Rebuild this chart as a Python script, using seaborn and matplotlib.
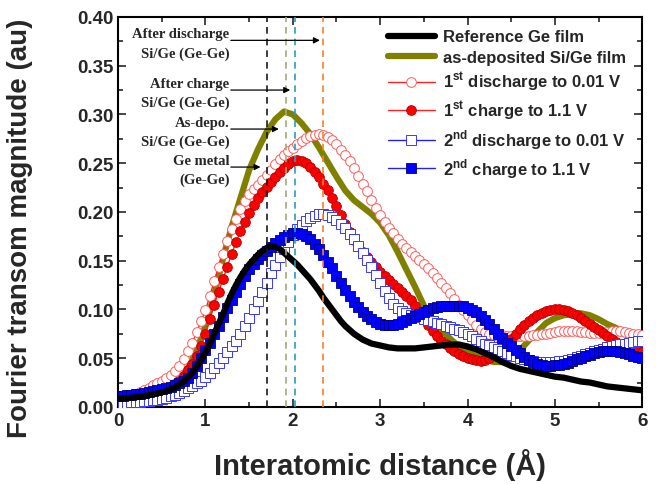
import numpy as np
import matplotlib
matplotlib.use("Agg")
import matplotlib.pyplot as plt
import seaborn as sns

# Interatomic distance grids (Å)
r_fine = [round(0.05 * i, 2) for i in range(121)]
r_coarse = [round(0.1 * i, 1) for i in range(61)]

ref_ge = [0.008, 0.0085, 0.009, 0.0095, 0.010, 0.0105, 0.011, 0.012, 0.013, 0.014,
          0.015, 0.016, 0.018, 0.020, 0.023, 0.026, 0.030, 0.035, 0.041, 0.048,
          0.056, 0.065, 0.075, 0.085, 0.095, 0.106, 0.116, 0.125, 0.133, 0.140,
          0.146, 0.151, 0.156, 0.160, 0.163, 0.165, 0.164, 0.162, 0.158, 0.154,
          0.150, 0.146, 0.141, 0.136, 0.131, 0.125, 0.119, 0.112, 0.106, 0.100,
          0.094, 0.088, 0.083, 0.079, 0.075, 0.072, 0.069, 0.067, 0.065, 0.064,
          0.063, 0.062, 0.061, 0.0605, 0.060, 0.060, 0.060, 0.060, 0.060, 0.0605,
          0.061, 0.0615, 0.062, 0.0625, 0.063, 0.0635, 0.064, 0.064, 0.064, 0.063,
          0.062, 0.0605, 0.059, 0.057, 0.055, 0.053, 0.051, 0.0485, 0.046, 0.044,
          0.042, 0.0405, 0.039, 0.038, 0.037, 0.036, 0.035, 0.034, 0.033, 0.032,
          0.031, 0.0305, 0.030, 0.029, 0.028, 0.027, 0.026, 0.0255, 0.025, 0.024,
          0.023, 0.022, 0.021, 0.0205, 0.020, 0.0195, 0.019, 0.0185, 0.018, 0.0175,
          0.017]

as_dep = [0.005, 0.006, 0.007, 0.009, 0.011, 0.014, 0.019, 0.027, 0.040, 0.058,
          0.083, 0.115, 0.152, 0.185, 0.214, 0.243, 0.264, 0.282, 0.295, 0.303,
          0.300, 0.291, 0.280, 0.266, 0.251, 0.236, 0.222, 0.212, 0.205, 0.198,
          0.189, 0.176, 0.159, 0.141, 0.123, 0.104, 0.089, 0.079, 0.070, 0.062,
          0.056, 0.052, 0.049, 0.046, 0.046, 0.050, 0.058, 0.068, 0.077, 0.086,
          0.091, 0.094, 0.095, 0.096, 0.094, 0.090, 0.085, 0.081, 0.076, 0.070,
          0.063]

dis1 = [0.009, 0.0095, 0.010, 0.011, 0.013, 0.015, 0.017, 0.019, 0.022, 0.024,
        0.027, 0.030, 0.033, 0.037, 0.042, 0.049, 0.057, 0.066, 0.077, 0.088,
        0.099, 0.114, 0.129, 0.144, 0.157, 0.170, 0.182, 0.193, 0.203, 0.211,
        0.218, 0.223, 0.228, 0.233, 0.238, 0.243, 0.249, 0.254, 0.258, 0.262,
        0.266, 0.270, 0.273, 0.276, 0.278, 0.279, 0.280, 0.279, 0.277, 0.274,
        0.270, 0.264, 0.258, 0.252, 0.245, 0.237, 0.229, 0.221, 0.212, 0.204,
        0.197, 0.190, 0.184, 0.178, 0.172, 0.167, 0.163, 0.159, 0.155, 0.151,
        0.147, 0.142, 0.137, 0.132, 0.127, 0.122, 0.117, 0.111, 0.105, 0.099,
        0.094, 0.089, 0.084, 0.080, 0.077, 0.075, 0.074, 0.073, 0.0735, 0.073,
        0.073, 0.073, 0.073, 0.073, 0.073, 0.0735, 0.074, 0.0745, 0.075, 0.076,
        0.077, 0.0775, 0.078, 0.078, 0.078, 0.0775, 0.077, 0.0765, 0.076, 0.076,
        0.076, 0.0765, 0.077, 0.0775, 0.078, 0.078, 0.077, 0.076, 0.075, 0.0745,
        0.074]

chg1 = [0.006, 0.0065, 0.007, 0.0075, 0.008, 0.009, 0.010, 0.011, 0.012, 0.0135,
        0.015, 0.017, 0.020, 0.023, 0.027, 0.032, 0.038, 0.044, 0.052, 0.062,
        0.075, 0.090, 0.105, 0.118, 0.131, 0.144, 0.157, 0.169, 0.180, 0.190,
        0.199, 0.207, 0.214, 0.220, 0.226, 0.231, 0.236, 0.241, 0.245, 0.249,
        0.252, 0.253, 0.252, 0.250, 0.246, 0.241, 0.236, 0.229, 0.222, 0.214,
        0.206, 0.197, 0.188, 0.179, 0.171, 0.165, 0.159, 0.154, 0.149, 0.143,
        0.138, 0.134, 0.130, 0.126, 0.122, 0.118, 0.114, 0.110, 0.104, 0.097,
        0.090, 0.084, 0.078, 0.073, 0.068, 0.064, 0.060, 0.057, 0.054, 0.052,
        0.050, 0.049, 0.048, 0.0475, 0.048, 0.050, 0.053, 0.056, 0.060, 0.065,
        0.070, 0.075, 0.080, 0.084, 0.088, 0.091, 0.094, 0.096, 0.098, 0.099,
        0.100, 0.100, 0.099, 0.098, 0.096, 0.094, 0.091, 0.088, 0.085, 0.082,
        0.079, 0.076, 0.073, 0.070, 0.067, 0.064, 0.062, 0.060, 0.058, 0.057,
        0.056]

dis2 = [0.003, 0.0035, 0.004, 0.0045, 0.005, 0.0055, 0.006, 0.0065, 0.007, 0.0075,
        0.008, 0.0095, 0.011, 0.0125, 0.014, 0.016, 0.019, 0.021, 0.024, 0.027,
        0.031, 0.035, 0.040, 0.045, 0.050, 0.056, 0.062, 0.068, 0.075, 0.083,
        0.091, 0.100, 0.109, 0.118, 0.127, 0.137, 0.146, 0.154, 0.162, 0.169,
        0.176, 0.182, 0.187, 0.191, 0.194, 0.196, 0.198, 0.198, 0.197, 0.195,
        0.192, 0.188, 0.183, 0.177, 0.172, 0.165, 0.158, 0.151, 0.143, 0.135,
        0.127, 0.119, 0.112, 0.106, 0.101, 0.098, 0.096, 0.094, 0.093, 0.092,
        0.090, 0.089, 0.088, 0.086, 0.085, 0.083, 0.082, 0.080, 0.079, 0.077,
        0.075, 0.073, 0.070, 0.068, 0.065, 0.063, 0.061, 0.059, 0.057, 0.055,
        0.053, 0.052, 0.050, 0.049, 0.048, 0.047, 0.046, 0.046, 0.046, 0.046,
        0.0465, 0.047, 0.0475, 0.048, 0.049, 0.051, 0.052, 0.054, 0.055, 0.057,
        0.058, 0.059, 0.061, 0.062, 0.063, 0.064, 0.065, 0.066, 0.067, 0.0675,
        0.068]

chg2 = [0.011, 0.0115, 0.012, 0.0125, 0.013, 0.0135, 0.014, 0.015, 0.016, 0.017,
        0.018, 0.019, 0.020, 0.022, 0.024, 0.027, 0.030, 0.035, 0.042, 0.050,
        0.058, 0.066, 0.075, 0.083, 0.092, 0.101, 0.110, 0.118, 0.126, 0.134,
        0.141, 0.147, 0.152, 0.156, 0.160, 0.164, 0.168, 0.171, 0.174, 0.176,
        0.178, 0.178, 0.177, 0.175, 0.172, 0.167, 0.162, 0.156, 0.149, 0.142,
        0.134, 0.127, 0.120, 0.114, 0.108, 0.102, 0.097, 0.093, 0.090, 0.087,
        0.085, 0.084, 0.0835, 0.084, 0.085, 0.087, 0.089, 0.091, 0.093, 0.095,
        0.097, 0.099, 0.101, 0.102, 0.103, 0.104, 0.104, 0.104, 0.104, 0.103,
        0.101, 0.099, 0.097, 0.093, 0.089, 0.085, 0.080, 0.075, 0.071, 0.066,
        0.062, 0.058, 0.055, 0.051, 0.048, 0.046, 0.044, 0.043, 0.042, 0.042,
        0.0425, 0.043, 0.044, 0.045, 0.047, 0.049, 0.050, 0.052, 0.053, 0.055,
        0.056, 0.057, 0.057, 0.057, 0.057, 0.056, 0.055, 0.054, 0.052, 0.051,
        0.050]

# Ge-Ge bond positions marked with dashed lines
peak_pos = [1.70, 1.92, 2.02, 2.34]
peak_colors = ["#1a1a1a", "#a8a878", "#2a9dbd", "#f5802a"]

# Callout labels, arrow heights and arrow tips
callouts = ["After discharge\nSi/Ge (Ge-Ge)", "After charge\nSi/Ge (Ge-Ge)",
            "As-depo.\nSi/Ge (Ge-Ge)", "Ge metal\n(Ge-Ge)"]
callout_y = [0.376, 0.325, 0.285, 0.246]
callout_tip = [2.31, 1.97, 1.84, 1.63]

sns.set_style("ticks")
plt.rcParams["font.family"] = ["Liberation Sans", "DejaVu Sans"]
plt.rcParams["font.weight"] = "bold"
plt.rcParams["mathtext.fontset"] = "custom"
plt.rcParams["mathtext.rm"] = "Liberation Sans:bold"
plt.rcParams["mathtext.bf"] = "Liberation Sans:bold"

fig = plt.figure(figsize=(6.6, 4.85), dpi=100)
ax = fig.add_axes([0.179, 0.159, 0.794, 0.804])

sns.lineplot(x=r_coarse, y=as_dep, ax=ax, color="#808000", lw=4.5,
             label="as-deposited Si/Ge film", zorder=2)
sns.lineplot(x=r_fine, y=dis1, ax=ax, color="#ff2020", lw=1.0, marker="o",
             markersize=7, markerfacecolor="white", markeredgecolor="#ff5a5a",
             markeredgewidth=0.7, label=r"1$^{\mathbf{st}}$ discharge to 0.01 V",
             zorder=3)
sns.lineplot(x=r_fine, y=chg1, ax=ax, color="#ff2020", lw=1.0, marker="o",
             markersize=7, markerfacecolor="#ff0000", markeredgecolor="#b00000",
             markeredgewidth=0.6, label=r"1$^{\mathbf{st}}$ charge to 1.1 V",
             zorder=4)
sns.lineplot(x=r_fine, y=dis2, ax=ax, color="#2020ff", lw=1.0, marker="s",
             markersize=6.5, markerfacecolor="white", markeredgecolor="#3838ff",
             markeredgewidth=0.7, label=r"2$^{\mathbf{nd}}$ discharge to 0.01 V",
             zorder=5)
sns.lineplot(x=r_fine, y=chg2, ax=ax, color="#2020ff", lw=1.0, marker="s",
             markersize=6.5, markerfacecolor="#0000ff", markeredgecolor="#000080",
             markeredgewidth=0.6, label=r"2$^{\mathbf{nd}}$ charge to 1.1 V",
             zorder=6)
sns.lineplot(x=r_fine, y=ref_ge, ax=ax, color="black", lw=4.5,
             label="Reference Ge film", zorder=7)

for xp, c in zip(peak_pos, peak_colors):
    ax.axvline(xp, color=c, lw=1.2, ls=(0, (4, 3)), zorder=8)

for txt, yy, tip in zip(callouts, callout_y, callout_tip):
    first, second = txt.split("\n")
    ax.text(1.275, yy + 0.007, first, ha="right", va="center",
            family="Liberation Serif", fontweight="bold", fontsize=10.5, zorder=9)
    ax.text(1.275, yy - 0.013, second, ha="right", va="center",
            family="Liberation Serif", fontweight="bold", fontsize=10.5, zorder=9)
    ax.annotate("", xy=(tip, yy), xytext=(1.29, yy),
                arrowprops=dict(arrowstyle="-|>", color="black", lw=0.9,
                                mutation_scale=9, shrinkA=0, shrinkB=0),
                zorder=9)

ax.set_xlim(0, 6)
ax.set_ylim(0, 0.40)
ax.set_xticks(range(7))
ax.set_xticks(np.arange(0.5, 6, 1.0), minor=True)
ax.set_yticks(np.arange(0, 0.401, 0.05))
ax.set_yticks(np.arange(0.025, 0.40, 0.05), minor=True)
ax.set_yticklabels([f"{v:.2f}" for v in np.arange(0, 0.401, 0.05)])
ax.tick_params(which="both", direction="in", top=True, right=True,
               labelsize=13.5, width=1.2)
ax.tick_params(which="major", length=6)
ax.tick_params(which="minor", length=3.5)
for lab in ax.get_xticklabels() + ax.get_yticklabels():
    lab.set_fontweight("bold")
for s in ax.spines.values():
    s.set_linewidth(1.5)
    s.set_color("black")

ax.set_xlabel("Interatomic distance (Å)", fontsize=21, fontweight="bold", labelpad=14)
ax.set_ylabel("Fourier transom magnitude (au)", fontsize=20, fontweight="bold")
ax.yaxis.set_label_coords(-0.163, 0.46)

handles, labels = ax.get_legend_handles_labels()
order = [labels.index("Reference Ge film"), labels.index("as-deposited Si/Ge film")] + \
        [i for i, l in enumerate(labels) if "V" in l]
ax.legend([handles[i] for i in order], [labels[i] for i in order],
          loc="upper left", bbox_to_anchor=(0.515, 0.968), frameon=False,
          handlelength=2.8, handletextpad=0.5, labelspacing=0.32,
          borderpad=0, borderaxespad=0, numpoints=1,
          prop={"weight": "bold", "size": 12})

fig.savefig("out.png", dpi=100)
